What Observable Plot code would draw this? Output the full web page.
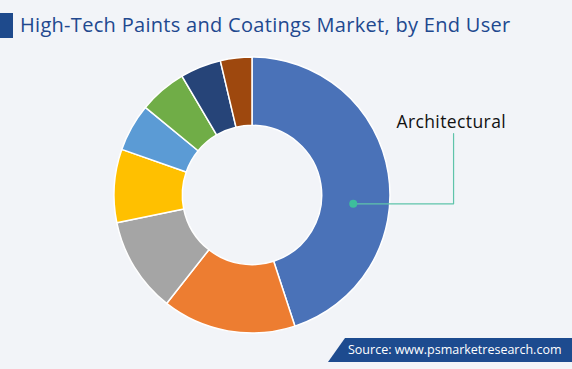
<!DOCTYPE html>
<html>
<head>
<meta charset="utf-8">
<script src="https://cdn.jsdelivr.net/npm/d3@7"></script>
<script src="https://cdn.jsdelivr.net/npm/@observablehq/plot@0.6"></script>
<style>
  html, body { margin: 0; padding: 0; background: #f2f4f8; }
  #wrap { position: relative; width: 572px; height: 369px; overflow: hidden; background: #f2f4f8; font-family: "Open Sans", sans-serif; }
  #bar { position: absolute; left: 0; top: 13px; width: 13px; height: 25px; background: #1e4a8c; }
  #title { position: absolute; left: 20px; top: 11px; font-size: 20px; color: #21488f; white-space: nowrap; letter-spacing: 0.3px; }
  #source { position: absolute; left: 328px; top: 338px; width: 244px; height: 24px; background: #1d4b8f; clip-path: polygon(17px 0, 100% 0, 100% 100%, 0 100%); }
  #source span { position: absolute; left: 20px; top: 3px; font-size: 12.5px; color: #fff; white-space: nowrap; }
  #chart { position: absolute; left: 0; top: 0; }
  #chart text { letter-spacing: 0.4px; }
</style>
</head>
<body>
<div id="wrap">
  <div id="chart"></div>
  <div id="bar"></div>
  <div id="title">High-Tech Paints and Coatings Market, by End User</div>
  <div id="source"><span>Source: www.psmarketresearch.com</span></div>
</div>
<script>
const categories = ["Architectural", "Automotive", "Industrial", "Marine", "Aerospace", "Wood", "Packaging", "Others"];
const values = [45.1, 15.7, 11.2, 8.6, 5.6, 5.6, 4.8, 3.7];
const colors = ["#4a72b8", "#ed7d31", "#a5a5a5", "#ffc000", "#5b9bd5", "#70ad47", "#264478", "#9e480e"];
const labelText = ["Architectural"];
const innerRatio = 0.505;

const data = categories.map((c, i) => ({category: c, value: values[i], color: colors[i]}));

// annotation anchor (data units of the donut frame: radius 1 = outer edge)
const anchor = [{x: 0.73, y: -0.06}];
const leader = [{x: 0.73, y: -0.06}, {x: 1.457, y: -0.06}, {x: 1.457, y: 0.449}];
const label = [{x: 1.043, y: 0.486, text: labelText[0]}];

function donut(index, scales, vals, dimensions, context) {
  const cx = scales.x(0), cy = scales.y(0);
  const R = scales.x(1) - cx;
  const r = R * innerRatio;
  const arcs = d3.pie().sort(null).value(d => d.value)(data);
  const arc = d3.arc().innerRadius(r).outerRadius(R);
  const g = d3.create("svg:g").attr("transform", `translate(${cx},${cy})`);
  g.selectAll("path").data(arcs).join("path")
    .attr("d", arc)
    .attr("fill", d => d.data.color)
    .attr("stroke", "#ffffff")
    .attr("stroke-width", 1.5)
    .attr("stroke-linejoin", "round");
  return g.node();
}

const plot = Plot.plot({
  width: 572,
  height: 369,
  margin: 0,
  style: {background: "transparent", fontFamily: "'Open Sans', sans-serif"},
  x: {domain: [-1, 1], range: [114, 390], axis: null},
  y: {domain: [-1, 1], range: [333, 57], axis: null},
  marks: [
    donut,
    Plot.line(leader, {x: "x", y: "y", stroke: "#5fc4aa", strokeWidth: 1.2}),
    Plot.dot(anchor, {x: "x", y: "y", r: 4, fill: "#3dbf9c", stroke: "none"}),
    Plot.text(label, {x: "x", y: "y", text: "text", textAnchor: "start", lineAnchor: "bottom", fontSize: 17.5, fill: "#111111"})
  ]
});
document.getElementById("chart").appendChild(plot);
</script>
</body>
</html>
